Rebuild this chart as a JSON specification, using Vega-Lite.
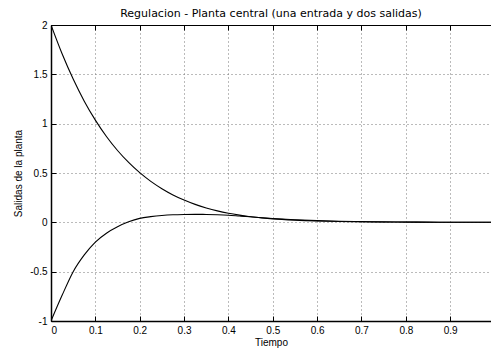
{
  "$schema": "https://vega.github.io/schema/vega-lite/v6.json",
  "width": 440,
  "height": 296,
  "autosize": "none",
  "padding": {"left": 51, "top": 25, "right": 0, "bottom": 31},
  "background": "white",
  "config": {
    "font": "Liberation Sans",
    "view": {"stroke": "black", "strokeWidth": 1},
    "axis": {"labelColor": "black", "titleColor": "black", "labelFontSize": 10, "titleFontSize": 10, "titleFontWeight": "normal"}
  },
  "title": {"text": "Regulacion - Planta central (una entrada y dos salidas)", "font": "DejaVu Sans", "fontSize": 11, "fontWeight": "normal", "color": "black", "offset": 1, "anchor": "middle"},
  "data": {"values": [
    {"t": 0, "y": 2, "s": "y1"}, {"t": 0.025, "y": 1.708, "s": "y1"}, {"t": 0.05, "y": 1.452, "s": "y1"}, {"t": 0.075, "y": 1.228, "s": "y1"},
    {"t": 0.1, "y": 1.036, "s": "y1"}, {"t": 0.125, "y": 0.87, "s": "y1"}, {"t": 0.15, "y": 0.728, "s": "y1"}, {"t": 0.175, "y": 0.607, "s": "y1"},
    {"t": 0.2, "y": 0.503, "s": "y1"}, {"t": 0.225, "y": 0.415, "s": "y1"}, {"t": 0.25, "y": 0.341, "s": "y1"}, {"t": 0.275, "y": 0.278, "s": "y1"},
    {"t": 0.3, "y": 0.226, "s": "y1"}, {"t": 0.325, "y": 0.182, "s": "y1"}, {"t": 0.35, "y": 0.146, "s": "y1"}, {"t": 0.375, "y": 0.116, "s": "y1"},
    {"t": 0.4, "y": 0.092, "s": "y1"}, {"t": 0.425, "y": 0.073, "s": "y1"}, {"t": 0.45, "y": 0.057, "s": "y1"}, {"t": 0.475, "y": 0.045, "s": "y1"},
    {"t": 0.5, "y": 0.035, "s": "y1"}, {"t": 0.55, "y": 0.022, "s": "y1"}, {"t": 0.6, "y": 0.0137, "s": "y1"}, {"t": 0.65, "y": 0.0086, "s": "y1"},
    {"t": 0.7, "y": 0.0054, "s": "y1"}, {"t": 0.75, "y": 0.0034, "s": "y1"}, {"t": 0.8, "y": 0.0021, "s": "y1"}, {"t": 0.85, "y": 0.0013, "s": "y1"},
    {"t": 0.9, "y": 0.0008, "s": "y1"}, {"t": 0.95, "y": 0.0005, "s": "y1"}, {"t": 0.992, "y": 0.0003, "s": "y1"},
    {"t": 0, "y": -1, "s": "y2"}, {"t": 0.025, "y": -0.74, "s": "y2"}, {"t": 0.05, "y": -0.5, "s": "y2"}, {"t": 0.075, "y": -0.33, "s": "y2"},
    {"t": 0.1, "y": -0.2, "s": "y2"}, {"t": 0.125, "y": -0.11, "s": "y2"}, {"t": 0.15, "y": -0.045, "s": "y2"}, {"t": 0.175, "y": 0.005, "s": "y2"},
    {"t": 0.2, "y": 0.04, "s": "y2"}, {"t": 0.225, "y": 0.058, "s": "y2"}, {"t": 0.25, "y": 0.07, "s": "y2"}, {"t": 0.275, "y": 0.077, "s": "y2"},
    {"t": 0.3, "y": 0.08, "s": "y2"}, {"t": 0.325, "y": 0.081, "s": "y2"}, {"t": 0.35, "y": 0.08, "s": "y2"}, {"t": 0.375, "y": 0.077, "s": "y2"},
    {"t": 0.4, "y": 0.072, "s": "y2"}, {"t": 0.425, "y": 0.064, "s": "y2"}, {"t": 0.45, "y": 0.056, "s": "y2"}, {"t": 0.475, "y": 0.047, "s": "y2"},
    {"t": 0.5, "y": 0.039, "s": "y2"}, {"t": 0.55, "y": 0.026, "s": "y2"}, {"t": 0.6, "y": 0.017, "s": "y2"}, {"t": 0.65, "y": 0.011, "s": "y2"},
    {"t": 0.7, "y": 0.007, "s": "y2"}, {"t": 0.75, "y": 0.0045, "s": "y2"}, {"t": 0.8, "y": 0.003, "s": "y2"}, {"t": 0.85, "y": 0.002, "s": "y2"},
    {"t": 0.9, "y": 0.0012, "s": "y2"}, {"t": 0.95, "y": 0.0008, "s": "y2"}, {"t": 0.992, "y": 0.0005, "s": "y2"}
  ]},
  "layer": [
    {
      "mark": {"type": "line", "color": "black", "strokeWidth": 1.1, "interpolate": "monotone", "clip": true},
      "encoding": {
        "x": {"field": "t", "type": "quantitative", "scale": {"domain": [0, 0.992], "nice": false, "zero": false},
          "axis": {"orient": "bottom", "values": [0, 0.1, 0.2, 0.3, 0.4, 0.5, 0.6, 0.7, 0.8, 0.9], "labelExpr": "'' + datum.value",
            "grid": true, "gridDash": [1, 3], "gridColor": "#777777", "gridOpacity": 1, "gridWidth": 1,
            "domainColor": "black", "domainWidth": 1.5, "tickColor": "black", "tickSize": -5, "tickWidth": 1,
            "labelPadding": 9, "title": "Tiempo", "titlePadding": 2}},
        "y": {"field": "y", "type": "quantitative", "scale": {"domain": [-1, 2], "nice": false, "zero": false},
          "axis": {"values": [-1, -0.5, 0, 0.5, 1, 1.5, 2], "labelExpr": "'' + datum.value",
            "grid": true, "gridDash": [1, 3], "gridColor": "#777777", "gridOpacity": 1, "gridWidth": 1,
            "domainColor": "black", "domainWidth": 1.5, "tickColor": "black", "tickSize": -5, "tickWidth": 1,
            "labelPadding": 9, "title": "Salidas de la planta", "titlePadding": 6}},
        "detail": {"field": "s"}
      }
    },
    {
      "mark": {"type": "point", "opacity": 0},
      "encoding": {
        "x": {"field": "t", "type": "quantitative",
          "axis": {"orient": "top", "values": [0, 0.1, 0.2, 0.3, 0.4, 0.5, 0.6, 0.7, 0.8, 0.9], "labels": false, "grid": false, "title": null,
            "domainColor": "black", "domainWidth": 1, "tickColor": "black", "tickSize": -5, "tickWidth": 1}},
        "y": {"field": "y", "type": "quantitative"}
      }
    }
  ],
  "resolve": {"axis": {"x": "independent"}}
}
